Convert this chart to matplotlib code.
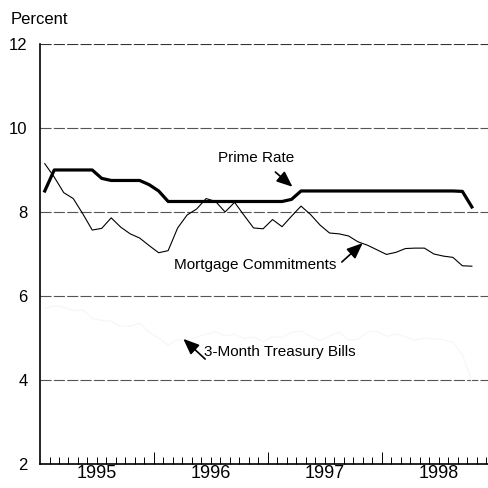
import matplotlib
matplotlib.use("Agg")
import matplotlib.pyplot as plt
import numpy as np

plt.rcParams['font.family'] = ['Liberation Sans', 'DejaVu Sans']

# monthly data, Jan 1995 - Oct 1998 (percent)
prime_rate = [8.50, 9.00, 9.00, 9.00, 9.00, 9.00, 8.80, 8.75, 8.75, 8.75, 8.75, 8.65,
              8.50, 8.25, 8.25, 8.25, 8.25, 8.25, 8.25, 8.25, 8.25, 8.25, 8.25, 8.25,
              8.25, 8.25, 8.30, 8.50, 8.50, 8.50, 8.50, 8.50, 8.50, 8.50, 8.50, 8.50,
              8.50, 8.50, 8.50, 8.50, 8.50, 8.50, 8.50, 8.50, 8.49, 8.12]
mortgage = [9.15, 8.83, 8.46, 8.32, 7.96, 7.57, 7.61, 7.86, 7.64, 7.48, 7.38, 7.20,
            7.03, 7.08, 7.62, 7.93, 8.07, 8.32, 8.25, 8.00, 8.23, 7.92, 7.62, 7.60,
            7.82, 7.65, 7.90, 8.14, 7.94, 7.69, 7.50, 7.48, 7.43, 7.29, 7.21, 7.10,
            6.99, 7.04, 7.13, 7.14, 7.14, 7.00, 6.95, 6.92, 6.72, 6.71]
tbills = [5.71, 5.77, 5.73, 5.65, 5.67, 5.47, 5.42, 5.40, 5.28, 5.28, 5.36, 5.14,
          5.00, 4.83, 4.96, 4.95, 5.02, 5.09, 5.15, 5.05, 5.09, 4.99, 5.03, 4.91,
          5.03, 5.01, 5.14, 5.16, 5.05, 4.93, 5.05, 5.14, 4.95, 4.97, 5.14, 5.16,
          5.04, 5.09, 5.03, 4.95, 5.00, 4.98, 4.96, 4.90, 4.61, 3.96]
years = ['1995', '1996', '1997', '1998']
y_ticks = [2, 4, 6, 8, 10, 12]

x = np.arange(len(prime_rate)) + 0.5  # mid-month positions, 0 = Jan 1 1995

fig = plt.figure(figsize=(4.88, 4.88), dpi=100)
ax = fig.add_axes([0.082, 0.049, 0.918, 0.861])

# gridlines (top one darker, like the scan)
for yv in y_ticks[1:]:
    c = '#333333' if yv == 12 else '#555555'
    ax.axhline(yv, color=c, lw=0.8, ls=(0, (10, 2)), zorder=1)

# the treasury bill line almost vanished in the original print
ax.plot(x, tbills, color='#f6f6f6', lw=0.8, zorder=2)
ax.plot(x, mortgage, color='black', lw=0.8, zorder=3)
ax.plot(x, prime_rate, color='black', lw=2.3, zorder=4, solid_joinstyle='round')

ax.set_xlim(0, 47.2)
ax.set_ylim(2, 12)

for s in ['top', 'right']:
    ax.spines[s].set_visible(False)
ax.spines['left'].set_linewidth(1.2)
ax.spines['bottom'].set_linewidth(1.2)

ax.set_yticks(y_ticks)
ax.set_yticklabels([str(v) for v in y_ticks], fontsize=12)
ax.tick_params(axis='y', length=0, pad=9)

ax.set_xticks([12, 24, 36])
ax.set_xticklabels([])
ax.set_xticks(np.arange(1, 48), minor=True)
ax.tick_params(axis='x', which='major', direction='in', length=9, width=0.7)
ax.tick_params(axis='x', which='minor', direction='in', length=5, width=0.7)

for i, yr in enumerate(years):
    ax.text(6 + 12 * i, -0.022, yr, transform=ax.get_xaxis_transform(),
            ha='center', va='center', fontsize=13)

fig.text(11 / 488, 1 - 20 / 488, 'Percent', ha='left', va='center', fontsize=12)

arrow = dict(arrowstyle='-|>,head_length=0.6,head_width=0.25', color='black',
             lw=1.2, mutation_scale=16, shrinkA=0, shrinkB=0)
ax.text(22.8, 9.29, 'Prime Rate', ha='center', va='center', fontsize=11)
ax.annotate('', xy=(26.6, 8.6), xytext=(24.8, 8.95), arrowprops=arrow)

ax.text(22.7, 6.74, 'Mortgage Commitments', ha='center', va='center', fontsize=11)
ax.annotate('', xy=(34.0, 7.26), xytext=(31.8, 6.81), arrowprops=arrow)

ax.text(25.3, 4.67, '3-Month Treasury Bills', ha='center', va='center', fontsize=11)
ax.annotate('', xy=(15.1, 4.98), xytext=(17.4, 4.5), arrowprops=arrow)

fig.savefig('out.png', dpi=100)
